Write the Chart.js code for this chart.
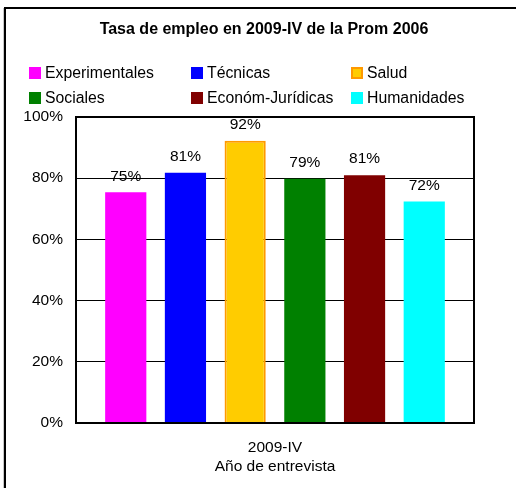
<!DOCTYPE html>
<html>
<head>
<meta charset="utf-8">
<script src="https://cdn.jsdelivr.net/npm/chart.js@4/dist/chart.umd.min.js"></script>
<style>
  html, body { margin: 0; padding: 0; background: #fff; }
  canvas { display: block; }
</style>
</head>
<body>
<canvas id="c" width="516" height="488"></canvas>
<script>
const chartTitle = "Tasa de empleo en 2009-IV de la Prom 2006";
const categories = ["2009-IV"];
const xAxisTitle = "Año de entrevista";
const seriesNames = ["Experimentales", "Técnicas", "Salud", "Sociales", "Económ-Jurídicas", "Humanidades"];
const seriesValues = [75.4, 81.8, 92.2, 79.8, 81.0, 72.4];
const valueLabels = ["75%", "81%", "92%", "79%", "81%", "72%"];
const seriesColors = ["#FF00FF", "#0000FF", "#FFCC00", "#008000", "#800000", "#00FFFF"];
const seriesBorders = [null, null, "#FF9900", null, null, null];
const yTicks = [0, 20, 40, 60, 80, 100];

const FONT = '"Liberation Sans", Arial, sans-serif';

const datasets = seriesNames.map((name, i) => ({
  label: name,
  data: [seriesValues[i]],
  backgroundColor: seriesColors[i],
  borderColor: seriesBorders[i] || seriesColors[i],
  borderWidth: seriesBorders[i] ? 2 : 0,
  barPercentage: 0.69,
  categoryPercentage: 0.9
}));

const decorPlugin = {
  id: 'decor',
  beforeDraw(chart) {
    const ctx = chart.ctx;
    ctx.save();
    ctx.fillStyle = '#fff';
    ctx.fillRect(0, 0, chart.width, chart.height);
    // outer frame (top & left visible)
    ctx.fillStyle = '#c8c8c8';
    ctx.fillRect(3, 8, 1, chart.height - 8);
    ctx.fillStyle = '#000';
    ctx.fillRect(4, 7, chart.width - 4, 2);
    ctx.fillRect(4, 7, 2, chart.height - 7);
    // title
    ctx.font = 'bold 16px ' + FONT;
    ctx.fillStyle = '#000';
    ctx.textAlign = 'center';
    ctx.textBaseline = 'middle';
    ctx.fillText(chartTitle, 264, 30);
    // legend (3 columns x 2 rows)
    const colX = [29, 191, 351];
    const rowY = [73, 98];
    ctx.font = '15.8px ' + FONT;
    ctx.textAlign = 'left';
    chart.data.datasets.forEach((ds, i) => {
      const x = colX[i % 3], y = rowY[Math.floor(i / 3)];
      ctx.fillStyle = ds.backgroundColor;
      ctx.fillRect(x, y - 6, 12, 12);
      if (ds.borderWidth) {
        ctx.strokeStyle = ds.borderColor;
        ctx.lineWidth = 2;
        ctx.strokeRect(x + 1, y - 5, 10, 10);
      }
      ctx.fillStyle = '#000';
      ctx.fillText(ds.label, x + 16, y + 1);
    });
    ctx.restore();
  },
  afterDraw(chart) {
    const ctx = chart.ctx;
    const a = chart.chartArea;
    ctx.save();
    ctx.strokeStyle = '#000';
    ctx.lineWidth = 2;
    ctx.strokeRect(a.left, a.top, a.right - a.left, a.bottom - a.top);
    // value labels
    ctx.font = '15.5px ' + FONT;
    ctx.fillStyle = '#000';
    ctx.textAlign = 'center';
    ctx.textBaseline = 'middle';
    chart.data.datasets.forEach((ds, i) => {
      const bar = chart.getDatasetMeta(i).data[0];
      ctx.fillText(valueLabels[i], bar.x, bar.y - 16);
    });
    ctx.restore();
  }
};

new Chart(document.getElementById('c'), {
  type: 'bar',
  data: { labels: categories, datasets },
  options: {
    responsive: false,
    animation: false,
    layout: { padding: { top: 117, right: 42, bottom: 0, left: 0 } },
    plugins: {
      legend: { display: false },
      title: { display: false },
      tooltip: { enabled: false }
    },
    scales: {
      x: {
        grid: { display: false, drawTicks: false },
        border: { display: false },
        ticks: { color: '#000', font: { family: FONT, size: 15.5 }, padding: 15 },
        title: {
          display: true, text: xAxisTitle, color: '#000',
          font: { family: FONT, size: 15.5 }, padding: { top: 0, bottom: 12 }
        },
        afterFit(scale) { scale.height = 65; }
      },
      y: {
        min: 0, max: 100,
        afterBuildTicks(scale) { scale.ticks = yTicks.map(v => ({ value: v })); },
        grid: { color: '#000', lineWidth: 1, drawTicks: false },
        border: { display: false },
        ticks: {
          color: '#000', font: { family: FONT, size: 15.5 }, padding: 13,
          callback: v => v + '%'
        },
        afterFit(scale) { scale.width = 76; }
      }
    }
  },
  plugins: [decorPlugin]
});
</script>
</body>
</html>
